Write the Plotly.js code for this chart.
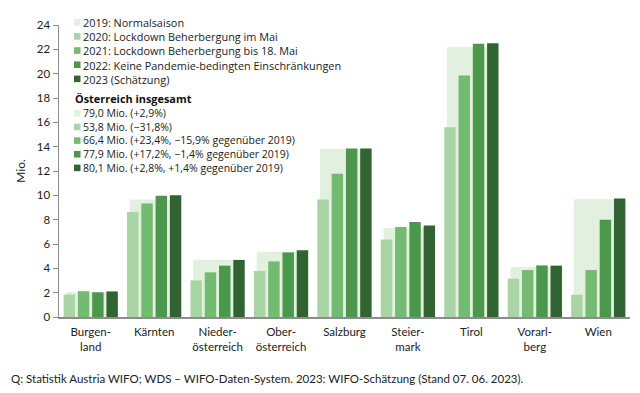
<!DOCTYPE html>
<html>
<head>
<meta charset="utf-8">
<script src="https://cdn.plot.ly/plotly-3.0.1.min.js"></script>
<style>html,body{margin:0;padding:0;background:#fff;}#chart{width:640px;height:393px;}</style>
</head>
<body>
<div id="chart"></div>
<script>
const categories = ["Burgen-<br>land","Kärnten","Nieder-<br>österreich","Ober-<br>österreich","Salzburg","Steier-<br>mark","Tirol","Vorarl-<br>berg","Wien"];
const seriesNames = ["2019: Normalsaison","2020: Lockdown Beherbergung im Mai","2021: Lockdown Beherbergung bis 18. Mai","2022: Keine Pandemie-bedingten Einschränkungen","2023 (Schätzung)"];
const v2019 = [2.05, 9.65, 4.71, 5.37, 13.8, 7.32, 22.17, 4.11, 9.67];
const v2020 = [1.85, 8.63, 3.01, 3.78, 9.65, 6.36, 15.6, 3.15, 1.83];
const v2021 = [2.12, 9.32, 3.67, 4.57, 11.78, 7.40, 19.85, 3.86, 3.86];
const v2022 = [2.03, 9.97, 4.22, 5.31, 13.84, 7.81, 22.45, 4.24, 8.0];
const v2023 = [2.10, 10.0, 4.69, 5.48, 13.84, 7.53, 22.5, 4.22, 9.75];
const totalTitle = "Österreich insgesamt";
const totalLabels = ["79,0 Mio. (+2,9%)","53,8 Mio. (−31,8%)","66,4 Mio. (+23,4%, −15,9% gegenüber 2019)","77,9 Mio. (+17,2%, −1,4% gegenüber 2019)","80,1 Mio. (+2,8%, +1,4% gegenüber 2019)"];
const colors = ["#e2f0df","#a9d5a5","#72bb70","#4b974b","#316431"];
const source = "Q: Statistik Austria WIFO; WDS – WIFO-Daten-System. 2023: WIFO-Schätzung (Stand 07. 06. 2023).";

const FONT = "Lato, 'Noto Sans', sans-serif";
const LFONT = "'Open Sans', 'Noto Sans', sans-serif";
const W = 640, H = 393, ML = 59, MR = 10, MT = 25, MB = 76;
const PW = W - ML - MR, PH = H - MT - MB;
const px2x = p => (p - ML) / PW;
const py2y = p => (H - MB - p) / PH;

const xIdx = categories.map((c, i) => i);
const allVals = [v2019, v2020, v2021, v2022, v2023];

const traces = [];
traces.push({
  type: 'bar', x: xIdx, y: v2019, name: seriesNames[0],
  marker: {color: colors[0]}, width: 0.77, offset: -0.385, showlegend: false
});
for (let s = 1; s < 5; s++) {
  traces.push({
    type: 'bar', x: xIdx, y: allVals[s], name: seriesNames[s],
    marker: {color: colors[s]}, showlegend: false
  });
}

const annotations = [];
const shapes = [];
// legend blocks: one multi-line text per block, plus colour swatches
function addBlock(lines, firstY, size) {
  const step = size * 1.3;
  const n = lines.length;
  const midY = firstY + step * (n - 1) / 2;
  annotations.push({xref: 'paper', yref: 'paper', x: px2x(81), y: py2y(midY),
    xanchor: 'left', yanchor: 'middle', showarrow: false, align: 'left',
    text: lines.join('<br>'), font: {family: LFONT, size: size, color: '#222'}});
  for (let i = 0; i < n; i++) {
    const yPx = firstY + step * i;
    shapes.push({type: 'rect', xref: 'paper', yref: 'paper',
      x0: px2x(74), x1: px2x(80.5), y0: py2y(yPx + 3.3), y1: py2y(yPx - 3.3),
      fillcolor: colors[i], line: {width: 0}});
  }
}
addBlock(seriesNames, 22.2, 10.9);
annotations.push({xref: 'paper', yref: 'paper', x: px2x(73), y: py2y(98.5),
  xanchor: 'left', yanchor: 'middle', showarrow: false, text: '<b>' + totalTitle + '</b>',
  font: {family: LFONT, size: 10.9, color: '#111'}});
addBlock(totalLabels, 113.3, 10.5);
annotations.push({xref: 'paper', yref: 'paper', x: px2x(9), y: py2y(378),
  xanchor: 'left', yanchor: 'middle', showarrow: false, text: source,
  font: {family: FONT, size: 11.5, color: '#222'}});

const layout = {
  width: W, height: H,
  margin: {l: ML, r: MR, t: MT, b: MB},
  paper_bgcolor: '#fff', plot_bgcolor: '#fff',
  barmode: 'group', bargap: 0.1, bargroupgap: 0.2,
  showlegend: false,
  font: {family: FONT, size: 11, color: '#222'},
  xaxis: {
    range: [-0.5, 8.5], tickmode: 'array', tickvals: xIdx, ticktext: categories,
    showline: true, linecolor: '#8c8c8c', linewidth: 1.5, ticks: '', showgrid: false,
    zeroline: false, ticklabelstandoff: 4,
    tickfont: {family: FONT, size: 11.5, color: '#222'}
  },
  yaxis: {
    range: [0, 24], dtick: 2, showline: true, linecolor: '#8c8c8c', linewidth: 1.5,
    ticks: 'outside', ticklen: 5, tickcolor: '#8c8c8c', showgrid: false, zeroline: false,
    tickfont: {family: FONT, size: 11.5, color: '#222'},
    title: {text: 'Mio.', font: {family: FONT, size: 12, color: '#222'}, standoff: 8}
  },
  annotations: annotations,
  shapes: shapes
};

Plotly.newPlot('chart', traces, layout, {displayModeBar: false, staticPlot: true});
</script>
</body>
</html>
